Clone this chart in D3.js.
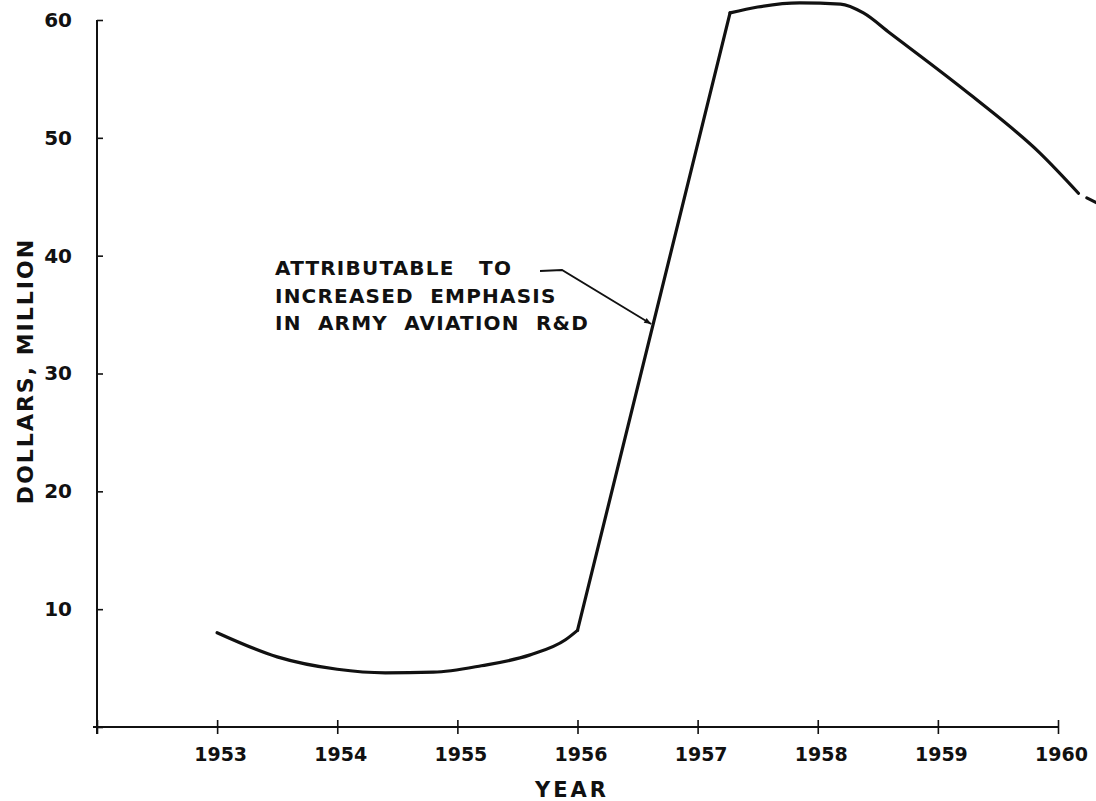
<!DOCTYPE html>
<html>
<head>
<meta charset="utf-8">
<script src="https://cdn.jsdelivr.net/npm/d3@7"></script>
<style>
  html, body { margin: 0; padding: 0; background: #fff; }
  text { font-family: "DejaVu Sans", sans-serif; fill: #111; }
</style>
</head>
<body>
<div id="chart"></div>
<script>
// values (dollars, million)
const years = [1953, 1953.5, 1954, 1954.4, 1954.8, 1955.2, 1955.6, 1955.9, 1956,
               1957.27, 1957.5, 1957.85, 1958.19, 1958.38, 1958.6, 1959.29, 1959.85, 1960.17];
const dollars = [8.0, 5.95, 4.9, 4.6, 4.65, 5.2, 6.1, 7.4, 8.2,
                 60.6, 61.1, 61.45, 61.35, 60.6, 58.9, 53.5, 48.7, 45.3];
// short piece past the small break at the right edge
const tailYears = [1960.24, 1960.36];
const tailDollars = [44.9, 44.3];

const xTicks = [1952, 1953, 1954, 1955, 1956, 1957, 1958, 1959, 1960];
const xTickLabels = ["", "1953", "1954", "1955", "1956", "1957", "1958", "1959", "1960"];
const yTicks = [0, 10, 20, 30, 40, 50, 60];
const yTickLabels = ["", "10", "20", "30", "40", "50", "60"];

const noteLines = ["ATTRIBUTABLE   TO", "INCREASED  EMPHASIS", "IN  ARMY  AVIATION  R&D"];
const noteYear = 1956.63;

const width = 1096, height = 801;

const svg = d3.select('#chart')
    .append('svg')
    .attr('width', width)
    .attr('height', height);

const x = d3.scaleLinear().domain([1952, 1960]).range([97, 1058]);
const y = d3.scaleLinear().domain([0, 60]).range([727, 20]);

const pts = years.map((yr, i) => [yr, dollars[i]]);

// x axis, ticks cross the line
const xAxis = svg.append('g')
    .attr('transform', 'translate(0,' + y(0) + ')')
    .call(d3.axisBottom(x).tickValues(xTicks)
        .tickFormat((d, i) => xTickLabels[i]).tickSize(7).tickPadding(14));
xAxis.select('.domain').attr('d', 'M' + (x(1952) - 4) + ',0H' + x(1960))
    .attr('stroke', '#111').attr('stroke-width', 2);
xAxis.selectAll('.tick line').attr('y1', -7).attr('stroke', '#111').attr('stroke-width', 1.6);
xAxis.selectAll('.tick text').attr('font-size', 19).attr('font-weight', 'bold')
    .attr('fill', '#111').attr('dx', 3);

// y axis
const yAxis = svg.append('g')
    .attr('transform', 'translate(' + x(1952) + ',0)')
    .call(d3.axisLeft(y).tickValues(yTicks)
        .tickFormat((d, i) => yTickLabels[i]).tickSize(7).tickPadding(18));
yAxis.select('.domain').attr('d', 'M0,' + y(60) + 'V' + (y(0) + 7))
    .attr('stroke', '#111').attr('stroke-width', 2);
yAxis.selectAll('.tick line').attr('x2', 6).attr('stroke', '#111').attr('stroke-width', 1.6);
yAxis.selectAll('.tick text').attr('font-size', 20).attr('font-weight', 'bold').attr('fill', '#111');

// axis titles
svg.append('text')
    .attr('x', 572)
    .attr('y', 797)
    .attr('text-anchor', 'middle')
    .attr('font-size', 21)
    .attr('font-weight', 'bold')
    .attr('letter-spacing', 3)
    .text('YEAR');

svg.append('text')
    .attr('transform', 'translate(33,' + 371 + ')rotate(-90)')
    .attr('text-anchor', 'middle')
    .attr('font-size', 22)
    .attr('font-weight', 'bold')
    .attr('letter-spacing', 2)
    .text('DOLLARS, MILLION');

// the curve: smooth low part, straight rise, rounded top and decline
const smooth = d3.line().x(d => x(d[0])).y(d => y(d[1])).curve(d3.curveMonotoneX);
const straight = d3.line().x(d => x(d[0])).y(d => y(d[1]));

const riseStart = years.indexOf(1956);
const riseEnd = riseStart + 1;

const curveStyle = sel => sel.attr('fill', 'none').attr('stroke', '#111')
    .attr('stroke-width', 3.2).attr('stroke-linejoin', 'round').attr('stroke-linecap', 'round');

svg.append('path').attr('d', smooth(pts.slice(0, riseStart + 1))).call(curveStyle);
svg.append('path').attr('d', straight(pts.slice(riseStart, riseEnd + 1))).call(curveStyle);
svg.append('path').attr('d', smooth(pts.slice(riseEnd))).call(curveStyle);
svg.append('path')
    .attr('d', straight(tailYears.map((yr, i) => [yr, tailDollars[i]])))
    .call(curveStyle);

// annotation with leader arrow onto the rise
const t = (noteYear - years[riseStart]) / (years[riseEnd] - years[riseStart]);
const noteValue = dollars[riseStart] + t * (dollars[riseEnd] - dollars[riseStart]);

svg.append('defs').append('marker')
    .attr('id', 'arrow')
    .attr('viewBox', '0 0 10 10')
    .attr('refX', 10).attr('refY', 5)
    .attr('markerWidth', 9).attr('markerHeight', 7)
    .attr('markerUnits', 'userSpaceOnUse')
    .attr('orient', 'auto')
    .append('path').attr('d', 'M0,1L10,5L0,9Z').attr('fill', '#111');

svg.append('path')
    .attr('d', 'M540,271L562,270L' + (x(noteYear) - 2) + ',' + y(noteValue))
    .attr('fill', 'none').attr('stroke', '#111').attr('stroke-width', 1.8)
    .attr('marker-end', 'url(#arrow)');

svg.append('g').selectAll('text')
    .data(noteLines).enter()
    .append('text')
    .attr('x', 275)
    .attr('y', (d, i) => 275 + i * 27.5)
    .attr('font-size', 20)
    .attr('font-weight', 'bold')
    .attr('letter-spacing', 1.2)
    .style('white-space', 'pre')
    .text(d => d);
</script>
</body>
</html>
